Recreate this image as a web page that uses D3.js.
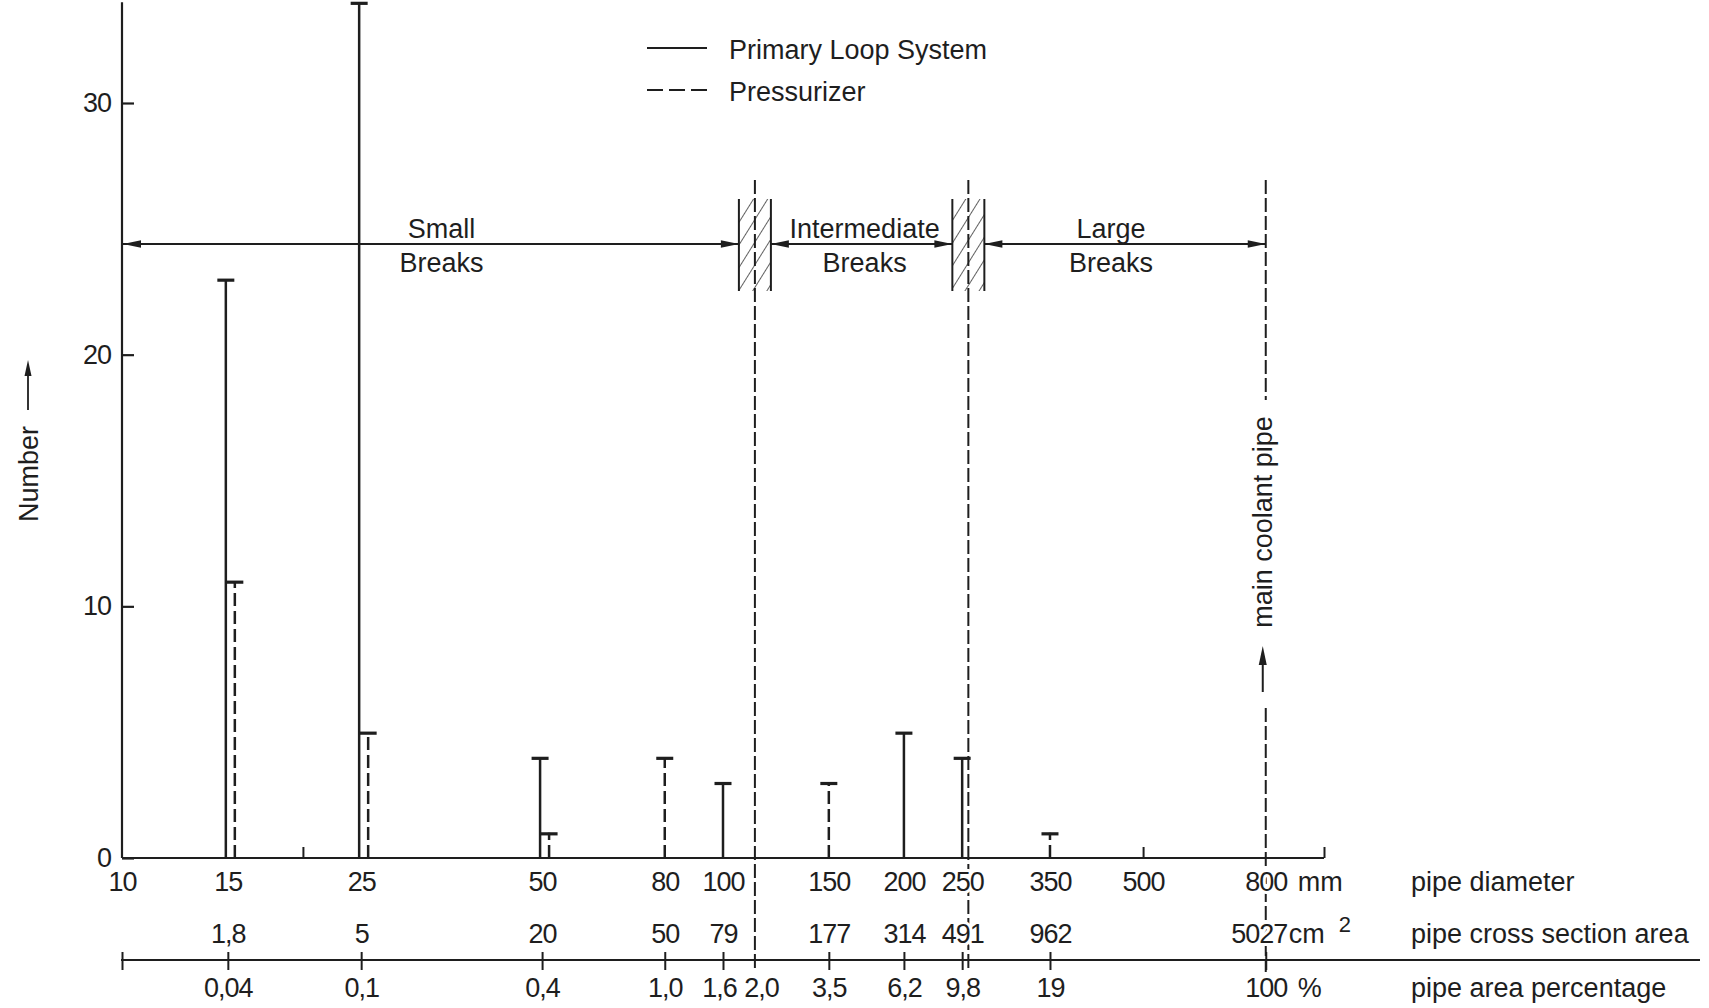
<!DOCTYPE html>
<html><head><meta charset="utf-8">
<script src="https://cdn.jsdelivr.net/npm/d3@7"></script>
<style>
body{margin:0;background:#fff}
svg{display:block}
text{font-family:"Liberation Sans",Arial,Helvetica,sans-serif;fill:#1e1e1e;font-size:27px}
.halo{stroke:#fff;stroke-width:6px;paint-order:stroke;stroke-linejoin:round}
.num{letter-spacing:-1px}
</style></head><body>
<svg id="c" width="1709" height="1008"></svg>
<script>
// ---------------- data ----------------
const diameters   = [15, 25, 50, 80, 100, 150, 200, 250, 350];   // mm
const primaryLoop = [23, 34, 4, 0, 3, 0, 5, 4, 0];
const pressurizer = [11, 5, 1, 4, 0, 3, 0, 0, 1];
const seriesNames = ["Primary Loop System", "Pressurizer"];

const yTicks = [0, 10, 20, 30];
const diameterTicks  = [10, 15, 25, 50, 80, 100, 150, 200, 250, 350, 500, 800];
const diameterLabels = ["10","15","25","50","80","100","150","200","250","350","500","800"];
const minorTicks = [20, 500, 1000];
const areaTicks  = [15, 25, 50, 80, 100, 150, 200, 250, 350, 800];
const areaLabels = ["1,8","5","20","50","79","177","314","491","962","5027"];
const pctTicks   = [10, 15, 25, 50, 80, 100, 150, 200, 250, 350, 800];
const pctLabelPos = [15, 25, 50, 80, 100, 113, 150, 200, 250, 350, 800];
const pctLabels   = ["0,04","0,1","0,4","1,0","1,6","2,0","3,5","6,2","9,8","19","100"];
const boundaries = [113, 256];      // break class boundaries (mm)
const mainPipe = 800;
const regionNames = [["Small","Breaks"],["Intermediate","Breaks"],["Large","Breaks"]];
const rowTitles = ["pipe diameter","pipe cross section area","pipe area percentage"];

// ---------------- layout ----------------
const svg = d3.select("#c");
const ink = "#1e1e1e";
const x = d3.scaleLog().domain([10, 1000]).range([122, 1324]);
const y = d3.scaleLinear().domain([0, 30]).range([858, 103]);
const yMax = d3.max(primaryLoop.concat(pressurizer));
const row1 = 891, row2 = 943, row3 = 997, pctLineY = 960;
const topDash = 180, arrowY = 244;

// y axis
svg.append("line").attr("x1", x(10)).attr("x2", x(10)).attr("y1", y(0)).attr("y2", y(yMax))
  .attr("stroke", ink).attr("stroke-width", 2.2);
const gy = svg.append("g").attr("transform", `translate(${x(10)},0)`)
  .call(d3.axisLeft(y).tickValues(yTicks).tickSize(-12).tickPadding(11).tickFormat(d3.format("d")));
gy.select(".domain").remove();
gy.selectAll(".tick line").attr("stroke", ink).attr("stroke-width", 2.2);
gy.selectAll("text").attr("fill", ink).attr("class", "num").style("font-size", "27px").attr("font-family", null);

// x baseline
svg.append("line").attr("x1", x(10)).attr("x2", x(1000)).attr("y1", y(0)).attr("y2", y(0))
  .attr("stroke", ink).attr("stroke-width", 2.2);
const gMinor = svg.append("g").attr("transform", `translate(0,${y(0)})`)
  .call(d3.axisTop(x).tickValues(minorTicks).tickSize(11).tickFormat(""));
gMinor.select(".domain").remove();
gMinor.selectAll("line").attr("stroke", ink).attr("stroke-width", 2);

// percentage axis line
svg.append("line").attr("x1", x(10) - 1).attr("x2", 1700).attr("y1", pctLineY).attr("y2", pctLineY)
  .attr("stroke", ink).attr("stroke-width", 2.2);
const gPt = svg.append("g").attr("transform", `translate(0,${pctLineY - 8})`)
  .call(d3.axisBottom(x).tickValues(pctTicks).tickSize(18).tickFormat(""));
gPt.select(".domain").remove();
gPt.selectAll("line").attr("stroke", ink).attr("stroke-width", 2);

// boundary dashed lines
boundaries.forEach(b => {
  svg.append("line").attr("x1", x(b)).attr("x2", x(b)).attr("y1", topDash).attr("y2", pctLineY + 12)
    .attr("stroke", ink).attr("stroke-width", 2).attr("stroke-dasharray", "14,4");
});
// main coolant pipe line
[[topDash, 400], [708, pctLineY + 12]].forEach(([a, b]) => {
  svg.append("line").attr("x1", x(mainPipe)).attr("x2", x(mainPipe)).attr("y1", a).attr("y2", b)
    .attr("stroke", ink).attr("stroke-width", 2).attr("stroke-dasharray", "14,4");
});

// hatched boxes
const defs = svg.append("defs");
const pat = defs.append("pattern").attr("id", "hatch").attr("patternUnits", "userSpaceOnUse")
  .attr("width", 12).attr("height", 12).attr("patternTransform", "rotate(32)");
pat.append("line").attr("x1", 0).attr("x2", 0).attr("y1", 0).attr("y2", 12)
  .attr("stroke", ink).attr("stroke-width", 1.4);
const boxW = 32, boxTop = 199, boxBot = 291;
boundaries.forEach(b => {
  const cx = x(b);
  svg.append("rect").attr("x", cx - boxW / 2).attr("y", boxTop).attr("width", boxW)
    .attr("height", boxBot - boxTop).attr("fill", "url(#hatch)");
  [cx - boxW / 2, cx + boxW / 2].forEach(ex => svg.append("line").attr("x1", ex).attr("x2", ex)
    .attr("y1", boxTop).attr("y2", boxBot).attr("stroke", ink).attr("stroke-width", 2));
});

// arrows
function head(px, py, dir, vertical) {
  const L = 18, W = 3.8;
  const pts = vertical
    ? [[px, py], [px - W, py - dir * L], [px + W, py - dir * L]]
    : [[px, py], [px - dir * L, py - W], [px - dir * L, py + W]];
  svg.append("polygon").attr("points", pts.map(p => p.join(",")).join(" ")).attr("fill", ink);
}
const segs = [[x(10) + 1, x(boundaries[0]) - boxW / 2],
              [x(boundaries[0]) + boxW / 2, x(boundaries[1]) - boxW / 2],
              [x(boundaries[1]) + boxW / 2, x(mainPipe)]];
segs.forEach(([a, b]) => {
  svg.append("line").attr("x1", a).attr("x2", b).attr("y1", arrowY).attr("y2", arrowY)
    .attr("stroke", ink).attr("stroke-width", 2);
  head(a, arrowY, -1, false);
  head(b, arrowY, 1, false);
});
// region labels
const regionBounds = [[10, boundaries[0]], [boundaries[0], boundaries[1]], [boundaries[1], mainPipe]];
regionNames.forEach((nm, i) => {
  const cx = x(Math.sqrt(regionBounds[i][0] * regionBounds[i][1])) + (i === 2 ? -6 : 3);
  svg.append("text").attr("x", cx).attr("y", 238).attr("text-anchor", "middle").text(nm[0]);
  svg.append("text").attr("x", cx).attr("y", 272).attr("text-anchor", "middle").text(nm[1]);
});

// bars
const capW = 17;
function bar(d, v, dashed, off) {
  if (!v) return;
  const bx = x(d) + off;
  svg.append("line").attr("x1", bx).attr("x2", bx).attr("y1", y(0)).attr("y2", y(v))
    .attr("stroke", ink).attr("stroke-width", 2.5)
    .attr("stroke-dasharray", dashed ? "13,5" : null);
  svg.append("line").attr("x1", bx - capW / 2).attr("x2", bx + capW / 2).attr("y1", y(v) + 1).attr("y2", y(v) + 1)
    .attr("stroke", ink).attr("stroke-width", 3.2);
}
diameters.forEach((d, i) => {
  bar(d, primaryLoop[i], false, primaryLoop[i] && pressurizer[i] ? -2 : 0);
  bar(d, pressurizer[i], true, primaryLoop[i] ? 7 : 0);
});

// axis label rows
function labelRow(vals, labels, baseY) {
  const g = svg.append("g").attr("transform", `translate(0,${baseY})`)
    .call(d3.axisBottom(x).tickValues(vals).tickSize(0).tickFormat((d, i) => labels[i]));
  g.select(".domain").remove();
  g.selectAll("text").attr("y", 0).attr("dy", 0).attr("fill", ink)
    .attr("font-family", null).attr("font-size", null).attr("class", "halo num").style("font-size", "27px");
  g.selectAll(".tick line").remove();
  return g;
}
labelRow(diameterTicks, diameterLabels, row1);
const gArea = labelRow(areaTicks, areaLabels, row2);
gArea.selectAll(".tick").filter(d => d === mainPipe).select("text").attr("text-anchor", "end").attr("x", 21);
const gPct = labelRow(pctLabelPos, pctLabels, row3);
gPct.selectAll(".tick").filter(d => d === 100).select("text").attr("x", -4);
gPct.selectAll(".tick").filter(d => d === 113).select("text").attr("x", 6);

svg.append("text").attr("x", x(mainPipe) + 32).attr("y", row1).attr("class", "halo").text("mm");
svg.append("text").attr("x", x(mainPipe) + 23).attr("y", row2).attr("class", "halo").text("cm");
svg.append("text").attr("x", x(mainPipe) + 73).attr("y", row2 - 11).style("font-size", "22px").text("2");
svg.append("text").attr("x", x(mainPipe) + 32).attr("y", row3).attr("class", "halo").text("%");
[row1, row2, row3].forEach((ry, i) =>
  svg.append("text").attr("x", 1411).attr("y", ry).text(rowTitles[i]));

// y title
svg.append("text").attr("transform", "translate(38,474) rotate(-90)").attr("text-anchor", "middle").text("Number");
svg.append("line").attr("x1", 28).attr("x2", 28).attr("y1", 410).attr("y2", 372).attr("stroke", ink).attr("stroke-width", 1.8);
(function(){ const pts=[[28,360],[24.5,376],[31.5,376]]; svg.append("polygon").attr("points", pts.map(p=>p.join(",")).join(" ")).attr("fill", ink);})();

// main coolant pipe label
svg.append("text").attr("transform", `translate(${x(mainPipe) + 6},522) rotate(-90)`).attr("text-anchor", "middle").text("main coolant pipe");
svg.append("line").attr("x1", x(mainPipe) - 3).attr("x2", x(mainPipe) - 3).attr("y1", 692).attr("y2", 660)
  .attr("stroke", ink).attr("stroke-width", 2);
(function(){ const cx = x(mainPipe) - 3; const pts=[[cx,646],[cx-4,665],[cx+4,665]]; svg.append("polygon").attr("points", pts.map(p=>p.join(",")).join(" ")).attr("fill", ink);})();

// legend
const lg = svg.append("g");
[0, 1].forEach(i => {
  const ly = 48 + i * 42;
  lg.append("line").attr("x1", 647).attr("x2", 707).attr("y1", ly).attr("y2", ly)
    .attr("stroke", ink).attr("stroke-width", 2.2).attr("stroke-dasharray", i ? "16,6" : null);
  lg.append("text").attr("x", 729).attr("y", ly + 11).text(seriesNames[i]);
});
</script>
</body></html>
